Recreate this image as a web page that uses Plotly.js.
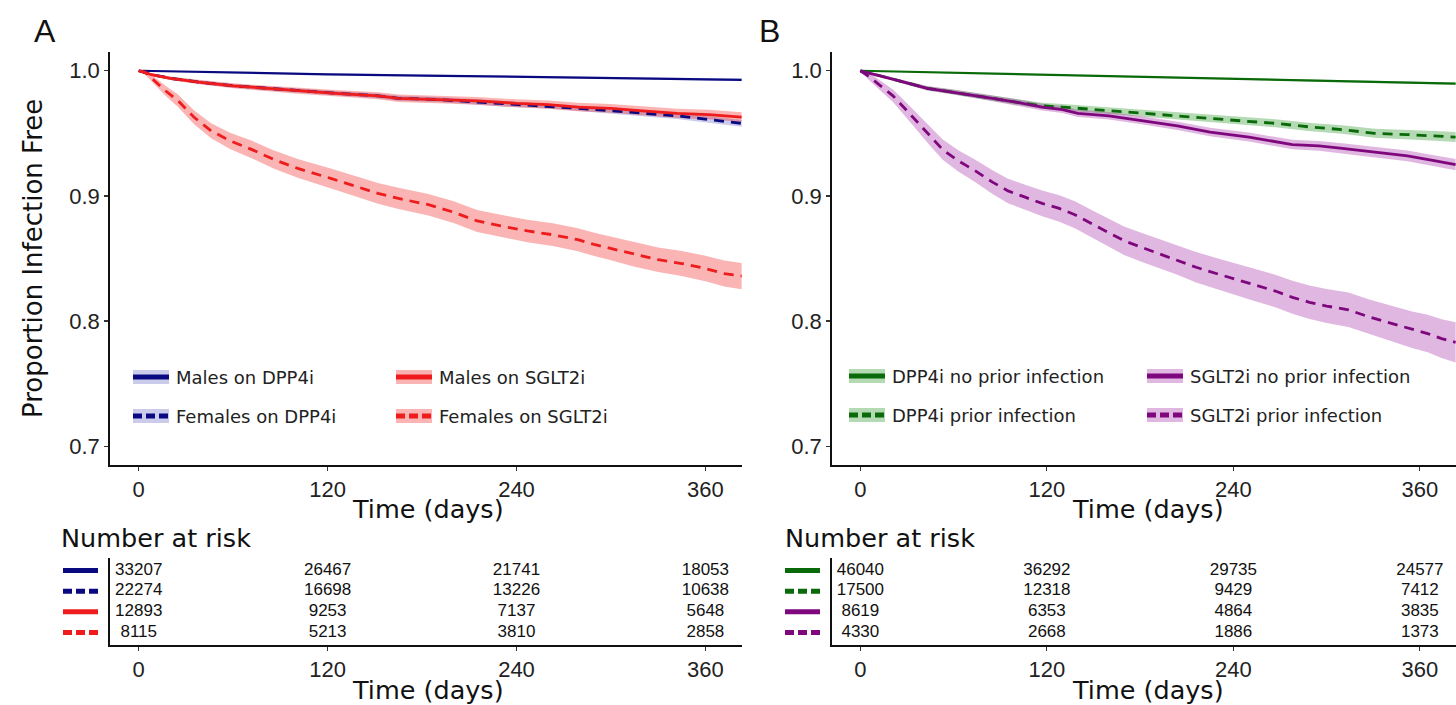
<!DOCTYPE html>
<html>
<head>
<meta charset="utf-8">
<script src="https://cdn.plot.ly/plotly-3.0.1.min.js"></script>
<style>html,body{margin:0;padding:0;background:#fff;}#chart{width:1456px;height:705px;}</style>
</head>
<body>
<div id="chart"></div>
<script>
// ---------------- DATA ----------------
const riskTimes = [0, 120, 240, 360];
const xTickVals = [0, 120, 240, 360];
const yTickVals = [0.7, 0.8, 0.9, 1.0];
const yTickText = ['0.7', '0.8', '0.9', '1.0'];

// Panel A
const namesA = ['Males on DPP4i', 'Females on DPP4i', 'Males on SGLT2i', 'Females on SGLT2i'];

const tA1 = [0, 60, 120, 180, 240, 300, 360, 383];
const sA1 = [1.0, 0.9985, 0.9972, 0.9962, 0.9952, 0.9942, 0.9932, 0.9928];
const cA1 = [0, 0.0004, 0.0006, 0.0007, 0.0008, 0.0009, 0.0010, 0.0010];

const tA2 = [0, 8, 20, 38, 60, 80, 101, 125, 152, 165, 190, 215, 240, 260, 279, 300, 320, 342, 362, 383];
const sA2 = [1.0, 0.997, 0.994, 0.991, 0.988, 0.986, 0.984, 0.982, 0.980, 0.978, 0.977, 0.975, 0.973, 0.972, 0.970, 0.968, 0.966, 0.964, 0.961, 0.958];
const cA2 = [0, 0.001, 0.0012, 0.0014, 0.0015, 0.0016, 0.0017, 0.0018, 0.0019, 0.002, 0.002, 0.0021, 0.0022, 0.0022, 0.0023, 0.0024, 0.0024, 0.0025, 0.0026, 0.0027];

const tA3 = [0, 8, 20, 38, 60, 80, 101, 125, 152, 165, 190, 215, 240, 260, 279, 300, 320, 342, 362, 383];
const sA3 = [1.0, 0.997, 0.994, 0.991, 0.988, 0.986, 0.984, 0.982, 0.980, 0.978, 0.977, 0.976, 0.974, 0.973, 0.971, 0.970, 0.968, 0.966, 0.965, 0.963];
const cA3 = [0, 0.001, 0.0014, 0.0018, 0.002, 0.0022, 0.0024, 0.0026, 0.0028, 0.003, 0.003, 0.0031, 0.0032, 0.0033, 0.0034, 0.0035, 0.0036, 0.0037, 0.0038, 0.0039];

const tA4 = [0, 4, 10, 17, 25, 35, 46, 58, 72, 86, 101, 112, 122, 137, 152, 165, 184, 200, 215, 230, 247, 263, 279, 290, 300, 315, 330, 345, 360, 372, 383];
const sA4 = [1.0, 0.999, 0.992, 0.984, 0.976, 0.963, 0.952, 0.944, 0.937, 0.929, 0.922, 0.918, 0.914, 0.908, 0.902, 0.898, 0.893, 0.887, 0.880, 0.876, 0.872, 0.869, 0.865, 0.861, 0.858, 0.853, 0.849, 0.846, 0.842, 0.838, 0.836];
const cA4 = [0, 0.002, 0.003, 0.004, 0.005, 0.0055, 0.006, 0.0065, 0.007, 0.0072, 0.0075, 0.0077, 0.0079, 0.0081, 0.0083, 0.0085, 0.0086, 0.0087, 0.0088, 0.0089, 0.009, 0.0091, 0.0092, 0.0093, 0.0094, 0.0096, 0.0098, 0.01, 0.0102, 0.0104, 0.0105];

const riskA = [
  [33207, 26467, 21741, 18053],
  [22274, 16698, 13226, 10638],
  [12893, 9253, 7137, 5648],
  [8115, 5213, 3810, 2858]
];

// Panel B
const namesB = ['DPP4i no prior infection', 'DPP4i prior infection', 'SGLT2i no prior infection', 'SGLT2i prior infection'];

const tB1 = [0, 60, 120, 180, 240, 300, 360, 383];
const sB1 = [1.0, 0.9983, 0.9968, 0.9952, 0.9936, 0.9920, 0.9904, 0.9897];
const cB1 = [0, 0.0004, 0.0005, 0.0006, 0.0007, 0.0008, 0.0009, 0.0009];

const tB2 = [0, 10, 25, 43, 60, 85, 100, 117, 130, 140, 160, 183, 204, 225, 245, 267, 290, 310, 331, 352, 370, 383];
const sB2 = [1.0, 0.997, 0.992, 0.986, 0.983, 0.978, 0.975, 0.972, 0.971, 0.970, 0.968, 0.966, 0.964, 0.962, 0.960, 0.958, 0.955, 0.953, 0.950, 0.949, 0.948, 0.947];
const cB2 = [0, 0.001, 0.0013, 0.0016, 0.0018, 0.002, 0.0022, 0.0024, 0.0025, 0.0026, 0.0027, 0.0028, 0.0029, 0.003, 0.0031, 0.0032, 0.0033, 0.0034, 0.0036, 0.0038, 0.0039, 0.004];

const tB3 = [0, 10, 25, 43, 60, 85, 100, 117, 130, 140, 160, 183, 204, 225, 250, 278, 295, 310, 330, 352, 370, 383];
const sB3 = [1.0, 0.997, 0.992, 0.986, 0.983, 0.978, 0.975, 0.971, 0.969, 0.966, 0.964, 0.960, 0.956, 0.951, 0.947, 0.941, 0.940, 0.938, 0.935, 0.932, 0.928, 0.925];
const cB3 = [0, 0.001, 0.0014, 0.0018, 0.002, 0.0023, 0.0025, 0.0027, 0.0028, 0.0029, 0.003, 0.0032, 0.0033, 0.0034, 0.0036, 0.0038, 0.0039, 0.004, 0.0041, 0.0042, 0.0044, 0.0045];

const tB4 = [0, 6, 13, 21, 30, 38, 46, 53, 63, 74, 85, 95, 106, 117, 128, 138, 150, 159, 170, 183, 194, 204, 216, 229, 240, 253, 267, 278, 289, 300, 314, 328, 342, 355, 365, 374, 383];
const sB4 = [1.0, 0.995, 0.988, 0.980, 0.968, 0.957, 0.946, 0.937, 0.928, 0.920, 0.911, 0.904, 0.899, 0.894, 0.890, 0.885, 0.877, 0.871, 0.864, 0.858, 0.853, 0.849, 0.843, 0.838, 0.834, 0.829, 0.824, 0.819, 0.815, 0.812, 0.809, 0.803, 0.798, 0.793, 0.790, 0.786, 0.783];
const cB4 = [0, 0.003, 0.004, 0.005, 0.006, 0.007, 0.0075, 0.008, 0.0085, 0.009, 0.0095, 0.0098, 0.010, 0.0103, 0.0106, 0.0108, 0.011, 0.0112, 0.0114, 0.0116, 0.0118, 0.012, 0.0122, 0.0124, 0.0126, 0.0128, 0.013, 0.0132, 0.0134, 0.0136, 0.0138, 0.014, 0.0143, 0.0146, 0.015, 0.0155, 0.016];

const riskB = [
  [46040, 36292, 29735, 24577],
  [17500, 12318, 9429, 7412],
  [8619, 6353, 4864, 3835],
  [4330, 2668, 1886, 1373]
];

// ---------------- STYLES ----------------
const W = 1456, H = 705;
const px = v => v / W;
const py = v => 1 - v / H;

const NAVY = '#0a0a80', RED = '#ee1c1c', GREEN = '#0a6a0a', PURPLE = '#7e077e';
const stylesA = [
  {color: NAVY, fill: 'rgba(20,20,170,0.22)', dash: 'solid', width: 2.2},
  {color: NAVY, fill: 'rgba(20,20,170,0.22)', dash: '10px,7px', width: 2.8},
  {color: RED, fill: 'rgba(240,40,40,0.35)', dash: 'solid', width: 2.8},
  {color: RED, fill: 'rgba(240,40,40,0.35)', dash: '10px,7px', width: 2.8}
];
const stylesB = [
  {color: GREEN, fill: 'rgba(20,140,20,0.32)', dash: 'solid', width: 2.2},
  {color: GREEN, fill: 'rgba(20,140,20,0.32)', dash: '10px,7px', width: 2.8},
  {color: PURPLE, fill: 'rgba(160,30,160,0.32)', dash: 'solid', width: 2.8},
  {color: PURPLE, fill: 'rgba(160,30,160,0.32)', dash: '10px,7px', width: 2.8}
];

const FT = '"DejaVu Sans", Verdana, sans-serif';
const FN = '"Liberation Sans", Arial, sans-serif';

const seriesA = [[tA1, sA1, cA1], [tA2, sA2, cA2], [tA3, sA3, cA3], [tA4, sA4, cA4]];
const seriesB = [[tB1, sB1, cB1], [tB2, sB2, cB2], [tB3, sB3, cB3], [tB4, sB4, cB4]];

const bands = [], lines = [], texts = [];
function addPanel(series, styles, names, xa, ya) {
  series.forEach((sr, i) => {
    const [t, s, c] = sr;
    const up = s.map((v, k) => v + c[k]);
    const lo = s.map((v, k) => v - c[k]);
    bands.push({
      x: t.concat(t.slice().reverse()), y: up.concat(lo.slice().reverse()),
      xaxis: xa, yaxis: ya, type: 'scatter', mode: 'lines', fill: 'toself',
      fillcolor: styles[i].fill, line: {width: 0}, hoverinfo: 'skip', showlegend: false
    });
    lines.push({
      x: t, y: s, xaxis: xa, yaxis: ya, type: 'scatter', mode: 'lines', name: names[i],
      line: {color: styles[i].color, width: styles[i].width, dash: styles[i].dash}, showlegend: false
    });
  });
}
addPanel(seriesA, stylesA, namesA, 'x', 'y');
addPanel(seriesB, stylesB, namesB, 'x2', 'y2');

function addRisk(risk, xa, ya) {
  risk.forEach((row, i) => {
    texts.push({
      x: riskTimes, y: riskTimes.map(() => risk.length - i), text: row.map(String),
      xaxis: xa, yaxis: ya, type: 'scatter', mode: 'text', cliponaxis: false,
      textfont: {family: FN, size: 17, color: '#111'}, hoverinfo: 'skip', showlegend: false
    });
  });
}
addRisk(riskA, 'x3', 'y3');
addRisk(riskB, 'x4', 'y4');

// ---------------- AXES ----------------
const xRange = [-18.25, 383.25];
const domA = [px(110), px(742)];
const domB = [px(832), 1];
const domMainY = [py(465), py(52)];
const domRiskY = [py(645), py(558)];

function xAxis(dom, anchor) {
  return {
    domain: dom, anchor: anchor, range: xRange, tickvals: xTickVals, ticktext: xTickVals.map(String),
    ticks: 'outside', ticklen: 4, tickwidth: 1.2, tickcolor: '#333', showline: true, linecolor: '#111', linewidth: 1.8,
    showgrid: false, zeroline: false, tickfont: {family: FN, size: 22, color: '#222'}, automargin: false, fixedrange: true
  };
}
function yAxisMain(dom, anchor) {
  return {
    domain: dom, anchor: anchor, range: [0.685, 1.015], tickvals: yTickVals, ticktext: yTickText,
    ticks: 'outside', ticklen: 4, tickwidth: 1.2, tickcolor: '#333', showline: true, linecolor: '#111', linewidth: 1.8,
    showgrid: false, zeroline: false, tickfont: {family: FN, size: 22, color: '#222'}, automargin: false, fixedrange: true
  };
}
function yAxisRisk(dom, anchor) {
  return {
    domain: dom, anchor: anchor, range: [0.4, 4.6], showticklabels: false, ticks: '',
    showline: true, linecolor: '#111', linewidth: 1.8, showgrid: false, zeroline: false, automargin: false, fixedrange: true
  };
}

// ---------------- ANNOTATIONS & SHAPES ----------------
const ann = [];
const shapes = [];
function txt(text, x, y, opts) {
  ann.push(Object.assign({text: text, x: px(x), y: py(y), xref: 'paper', yref: 'paper', showarrow: false,
    xanchor: 'center', yanchor: 'middle', font: {family: FT, size: 25.5, color: '#111'}}, opts || {}));
}
txt('A', 45, 31, {font: {family: FN, size: 32, color: '#111'}});
txt('B', 769, 31, {font: {family: FN, size: 32, color: '#111'}});
txt('Proportion Infection Free', 33, 259, {textangle: -90, font: {family: FT, size: 26, color: '#111'}});
txt('Time (days)', 428, 509);
txt('Time (days)', 1148, 509);
txt('Number at risk', 59, 538, {xanchor: 'left'});
txt('Number at risk', 783, 538, {xanchor: 'left'});
txt('Time (days)', 428, 690);
txt('Time (days)', 1148, 690);

// in-plot legends
function legendEntry(name, st, x, y) {
  shapes.push({type: 'rect', xref: 'paper', yref: 'paper', x0: px(x), x1: px(x + 36), y0: py(y + 7), y1: py(y - 7),
    fillcolor: st.fill, line: {width: 0}, layer: 'above'});
  shapes.push({type: 'line', xref: 'paper', yref: 'paper', x0: px(x), x1: px(x + 36), y0: py(y), y1: py(y),
    line: {color: st.color, width: 5, dash: st.dash === 'solid' ? 'solid' : '9px,4px'}, layer: 'above'});
  txt(name, x + 41, y, {xanchor: 'left', font: {family: FT, size: 18, color: '#222'}});
}
const legA = [[133, 377], [133, 416], [396, 377], [396, 416]];
const legB = [[849, 376], [849, 415], [1147, 376], [1147, 415]];
namesA.forEach((n, i) => legendEntry(n, stylesA[i], legA[i][0], legA[i][1]));
namesB.forEach((n, i) => legendEntry(n, stylesB[i], legB[i][0], legB[i][1]));

// risk table swatches
function riskSwatches(styles, n, x, yref) {
  styles.forEach((st, i) => {
    shapes.push({type: 'line', xref: 'paper', yref: yref, x0: px(x), x1: px(x + 35), y0: n - i, y1: n - i,
      line: {color: st.color, width: 5, dash: st.dash === 'solid' ? 'solid' : '9px,4px'}});
  });
}
riskSwatches(stylesA, riskA.length, 63, 'y3');
riskSwatches(stylesB, riskB.length, 785, 'y4');

const layout = {
  width: W, height: H, margin: {l: 0, r: 0, t: 0, b: 0},
  paper_bgcolor: '#fff', plot_bgcolor: 'rgba(0,0,0,0)', showlegend: false,
  xaxis: xAxis(domA, 'y'), yaxis: yAxisMain(domMainY, 'x'),
  xaxis2: xAxis(domB, 'y2'), yaxis2: yAxisMain(domMainY, 'x2'),
  xaxis3: xAxis(domA, 'y3'), yaxis3: yAxisRisk(domRiskY, 'x3'),
  xaxis4: xAxis(domB, 'y4'), yaxis4: yAxisRisk(domRiskY, 'x4'),
  annotations: ann, shapes: shapes
};

Plotly.newPlot('chart', bands.concat(lines).concat(texts), layout, {displayModeBar: false, staticPlot: true});
</script>
</body>
</html>
